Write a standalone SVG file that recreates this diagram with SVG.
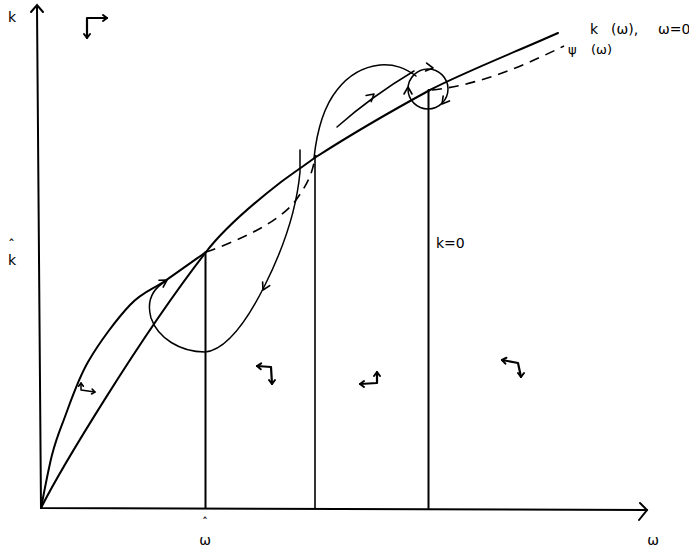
<svg xmlns="http://www.w3.org/2000/svg" width="689" height="549" viewBox="0 0 689 549">
<style>
.ax{stroke:#000;stroke-width:2;fill:none;stroke-linecap:round}
.cv{stroke:#000;stroke-width:2;fill:none;stroke-linecap:round;stroke-linejoin:round}
.th{stroke:#000;stroke-width:1.5;fill:none;stroke-linecap:round;stroke-linejoin:round}
.da{stroke:#000;stroke-width:1.6;fill:none;stroke-dasharray:10 7}
.ph{stroke:#000;stroke-width:2.2;fill:none;stroke-linecap:round;stroke-linejoin:round}
.lb{font-family:"DejaVu Sans","Liberation Sans",sans-serif;font-size:14px;fill:#000}
</style>
<defs>
<path id="chev" d="M-7,-4 L0,0 L-7,4" stroke="#000" stroke-width="1.6" fill="none" stroke-linecap="round" stroke-linejoin="round"/>
<path id="chevs" d="M-4,-3 L0,0 L-4,3" stroke="#000" stroke-width="2" fill="none" stroke-linecap="round" stroke-linejoin="round"/>
</defs>
<rect width="689" height="549" fill="#fff"/>
<g id="axes">
<path class="ax" d="M37,7 L41,508 L647,510"/>
<path class="ax" d="M31,12 L37,5 L43,12"/>
<path class="ax" d="M640,503 L647,510 L639,520"/>
</g>
<g id="verticals">
<path class="ax" d="M205.5,252 L205.5,508"/>
<path class="cv" style="stroke-width:1.6" d="M315,156 L315,508"/>
<path class="ax" d="M428.5,90 L428.5,508"/>
</g>
<g id="curve-k">
<path class="cv" d="M41,508 C60,470 140,337 206,252 C223,230 250,206 281,182 C293,173 305,165 316,157 C330,148 375,120 430,90 C460,74 520,50 558,33"/>
</g>
<g id="curve-psi">
<path class="cv" d="M41,508 C42.8,499.2 48.3,469.3 52,455 C55.7,440.7 57,437.5 63,422 C69,406.5 76.8,381.5 88,362 C99.2,342.5 117.2,318.5 130,305 C142.8,291.5 152.3,289.8 165,281 C177.7,272.2 199.2,256.8 206,252"/>
<path class="da" d="M206,252 C240,240 280,222 296,200 S312,170 316,155"/>
<path class="da" d="M432,90 C480,85 525,65 564,46"/>
</g>
<g id="trajectories">
<path class="th" d="M300,150 L300,172 C297,205 285,245 265,285 C245,325 225,350 205,352 C180,352 158,338 151,318 C146,300 154,288 166,281"/>
<use href="#chev" transform="translate(263,290) rotate(117)"/>
<use href="#chev" transform="translate(167,280) rotate(-32)"/>
<path class="th" d="M314,158 C317,130 325,105 337,90 C347,77 362,67 380,65 C395,64 405,68 416,76"/>
<path class="th" d="M337,127 Q372,96 414,71"/>
<use href="#chev" transform="translate(374,94) rotate(-40)"/>
<circle class="th" cx="428" cy="89" r="20"/>
<use href="#chev" transform="translate(433,68) rotate(8)"/>
<use href="#chev" transform="translate(442,104) rotate(128)"/>
<use href="#chev" transform="translate(408,87) rotate(-90)"/>
</g>
<g id="phase-arrows">
<path class="ph" d="M107,18 L87,18 L87,38"/>
<use href="#chevs" transform="translate(107,18)"/>
<use href="#chevs" transform="translate(87,38) rotate(90)"/>
<path class="th" d="M81,383 L81,390 L95,392"/>
<use href="#chevs" transform="translate(81,383) rotate(-90) scale(0.8)"/>
<use href="#chevs" transform="translate(95,392) rotate(8) scale(0.8)"/>
<path class="ph" d="M257,366 L271,367 L272,384"/>
<use href="#chevs" transform="translate(257,366) rotate(184)"/>
<use href="#chevs" transform="translate(272,384) rotate(90)"/>
<path class="ph" d="M377,372 L377,383 L360,384"/>
<use href="#chevs" transform="translate(377,372) rotate(-90)"/>
<use href="#chevs" transform="translate(360,384) rotate(180)"/>
<path class="ph" d="M502,360 L518,363 L521,377"/>
<use href="#chevs" transform="translate(502,360) rotate(190)"/>
<use href="#chevs" transform="translate(521,377) rotate(90)"/>
</g>
<g id="labels">
<text class="lb" x="8" y="22">k</text>
<text class="lb" x="11.5" y="250" text-anchor="middle">ˆ</text>
<text class="lb" x="8" y="265">k</text>
<text class="lb" x="205" y="527" text-anchor="middle" style="font-size:12px">ˆ</text>
<text class="lb" x="205" y="545" text-anchor="middle">ω</text>
<text class="lb" x="653" y="545" text-anchor="middle">ω</text>
<text class="lb" x="436" y="248">k=0</text>
<text class="lb" y="34"><tspan x="590">k</tspan><tspan x="611">(ω),</tspan><tspan x="658">ω=0</tspan></text>
<text class="lb" y="54" style="font-size:13px"><tspan x="568">ψ</tspan><tspan x="591">(ω)</tspan></text>
</g>
</svg>
